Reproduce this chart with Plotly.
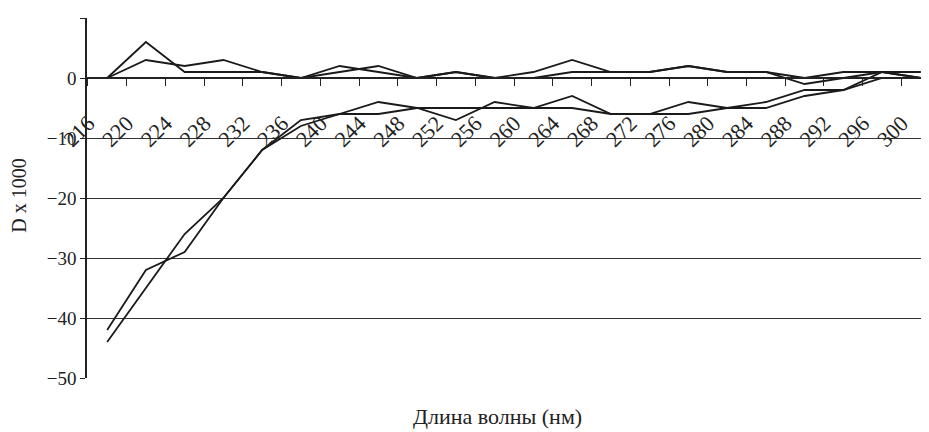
import plotly.graph_objects as go

wavelengths = ["216", "220", "224", "228", "232", "236", "240", "244", "248", "252", "256",
               "260", "264", "268", "272", "276", "280", "284", "288", "292", "296", "300"]

series_1 = [0, 6, 1, 1, 1, 0, 1, 2, 0, 1, 0, 1, 3, 1, 1, 2, 1, 1, 0, 1, 1, 0]
series_2 = [0, 3, 2, 3, 1, 0, 2, 1, 0, 1, 0, 0, 1, 1, 1, 2, 1, 1, -1, 0, 1, 1]
series_3 = [-42, -32, -29, -20, -12, -7, -6, -6, -5, -5, -5, -5, -5, -6, -6, -6, -5, -5, -3, -2, 0, 0]
series_4 = [-44, -35, -26, -20, -12, -8, -6, -4, -5, -7, -4, -5, -3, -6, -6, -4, -5, -4, -2, -2, 1, 0]

y_ticks = [10, 0, -10, -20, -30, -40, -50]

FONT = "'Liberation Serif', 'Times New Roman', Times, serif"
LINE = "#1a1a1a"

fig = go.Figure()
for ys in (series_1, series_2, series_3, series_4):
    fig.add_trace(go.Scatter(x=wavelengths, y=ys, mode="lines",
                             line=dict(color=LINE, width=1.8),
                             showlegend=False, hoverinfo="skip"))

# the page body has an 8px margin, so the figure is 8px smaller on each axis
fig.update_layout(
    width=921, height=424,
    margin=dict(l=79, r=0, t=10, b=54),
    paper_bgcolor="white", plot_bgcolor="white",
    font=dict(family=FONT, color="#222", size=19),
    xaxis=dict(
        type="category",
        categoryorder="array", categoryarray=wavelengths,
        range=[-0.52, 21.21],
        anchor="free", position=50 / 60,
        showline=True, linecolor="#222", linewidth=1.5,
        ticks="outside", ticklen=7, tickcolor="#222", tickwidth=1.2,
        tickson="boundaries",
        tickangle=-45,
        tickfont=dict(family=FONT, size=22, color="#222"),
        ticklabelstandoff=23,
        ticklabelshift=-19,
        showgrid=False, zeroline=False,
    ),
    yaxis=dict(
        range=[-50, 10],
        tickvals=y_ticks,
        showline=True, linecolor="#222", linewidth=1.5,
        ticks="outside", ticklen=5, tickcolor="#222",
        showgrid=True, gridcolor="#333", gridwidth=1,
        zeroline=False,
        tickfont=dict(family=FONT, size=19, color="#222"),
    ),
    annotations=[
        dict(text="Длина волны (нм)", xref="paper", yref="paper",
             x=0.487, y=-0.108, xanchor="center", yanchor="middle",
             showarrow=False, font=dict(family=FONT, size=22, color="#222")),
        dict(text="D x 1000", xref="paper", yref="paper",
             x=-0.081, y=0.5056, xanchor="center", yanchor="middle",
             textangle=-90, showarrow=False,
             font=dict(family=FONT, size=20, color="#222")),
    ],
)

fig.write_html("out.html")
